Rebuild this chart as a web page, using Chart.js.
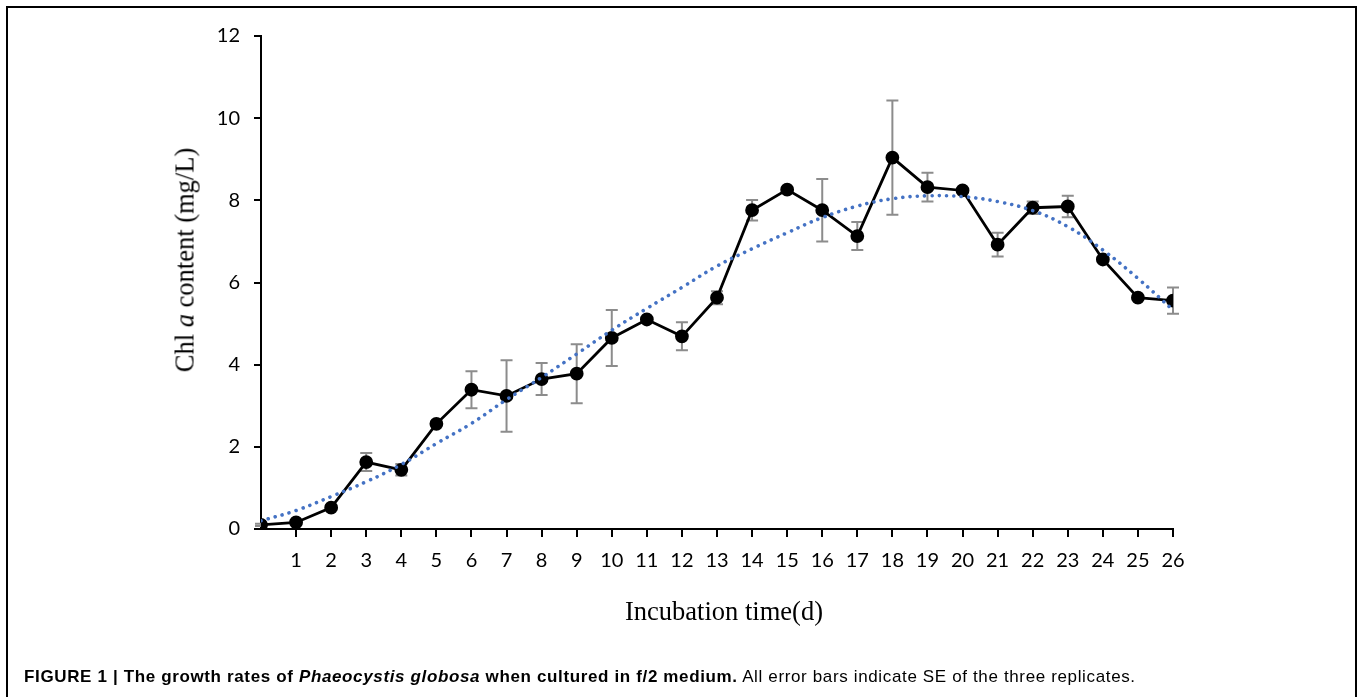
<!DOCTYPE html>
<html>
<head>
<meta charset="utf-8">
<script src="https://cdn.jsdelivr.net/npm/chart.js@4/dist/chart.umd.min.js"></script>
<style>
  html, body { margin: 0; padding: 0; background: #fff; width: 1357px; height: 697px; overflow: hidden; }
  #wrap { position: absolute; left: 0; top: 0; width: 1357px; height: 697px; }
  #frame { position: absolute; left: 6px; top: 6px; width: 1351px; height: 760px; border: 2.5px solid #000; box-sizing: border-box; }
  #ytitle { position: absolute; left: 185px; top: 260px; transform: translate(-50%, -50%) rotate(-90deg);
            font-family: "Liberation Serif", "Times New Roman", serif; font-size: 26.5px; color: #000; white-space: nowrap; }
  #xtitle { position: absolute; left: 724px; top: 611px; transform: translate(-50%, -50%);
            font-family: "Liberation Serif", "Times New Roman", serif; font-size: 26.5px; color: #000; white-space: nowrap; }
  #caption { position: absolute; left: 24px; top: 667px; font-family: "Liberation Sans", Arial, Helvetica, sans-serif;
             font-size: 17px; letter-spacing: 0.64px; color: #000; white-space: nowrap; }
  canvas { position: absolute; left: 0; top: 0; }
</style>
</head>
<body>
<div id="wrap">
  <div id="frame"></div>
  <canvas id="c" width="1357" height="697"></canvas>
  <div id="ytitle">Chl <i>a</i> content (mg/L)</div>
  <div id="xtitle"></div>
  <div id="caption"><b>FIGURE 1 | The growth rates of <i>Phaeocystis globosa</i> when cultured in f/2 medium.</b> All error bars indicate SE of the three replicates.</div>
</div>
<script>
// ---- data ----
const days = [0,1,2,3,4,5,6,7,8,9,10,11,12,13,14,15,16,17,18,19,20,21,22,23,24,25,26];
const chlA = [0.10,0.16,0.52,1.63,1.44,2.56,3.39,3.24,3.65,3.78,4.65,5.10,4.69,5.63,7.76,8.26,7.76,7.13,9.04,8.32,8.24,6.92,7.82,7.85,6.56,5.63,5.56];
const chlSE = [0.03,0.03,0.06,0.22,0.14,0.06,0.45,0.87,0.39,0.72,0.68,0.05,0.34,0.16,0.25,0.05,0.76,0.34,1.39,0.35,0.05,0.29,0.15,0.26,0.05,0.05,0.32];
const trend = [0.20,0.45,0.79,1.15,1.57,2.08,2.57,3.15,3.69,4.26,4.84,5.37,5.88,6.40,6.82,7.21,7.58,7.86,8.04,8.11,8.09,7.97,7.75,7.36,6.79,6.10,5.33];
const yTicks = [0,2,4,6,8,10,12];
const xTitle = 'Incubation time(d)';

document.getElementById('xtitle').textContent = xTitle;

const pts = days.map((d, i) => ({x: d, y: chlA[i]}));
const trendPts = days.map((d, i) => ({x: d, y: trend[i]}));

const errorBars = {
  id: 'errorBars',
  beforeDatasetsDraw(chart) {
    const {ctx, scales: {x, y}} = chart;
    ctx.save();
    ctx.strokeStyle = '#8c8c8c';
    ctx.lineWidth = 2;
    days.forEach((d, i) => {
      const px = x.getPixelForValue(d);
      const top = y.getPixelForValue(chlA[i] + chlSE[i]);
      const bot = y.getPixelForValue(chlA[i] - chlSE[i]);
      ctx.beginPath();
      ctx.moveTo(px, top); ctx.lineTo(px, bot);
      ctx.moveTo(px - 6, top); ctx.lineTo(px + 6, top);
      ctx.moveTo(px - 6, bot); ctx.lineTo(px + 6, bot);
      ctx.stroke();
    });
    ctx.restore();
  }
};

const tickFont = {family: 'Lato, "Open Sans", sans-serif', size: 20};

new Chart(document.getElementById('c'), {
  type: 'line',
  data: {
    datasets: [
      {
        label: 'trend',
        data: trendPts,
        borderColor: '#4472C4',
        borderWidth: 3.6,
        borderDash: [0.01, 7.3],
        borderCapStyle: 'round',
        pointRadius: 0,
        tension: 0.4,
        fill: false,
        order: 0
      },
      {
        label: 'Chl a',
        data: pts,
        borderColor: '#000',
        backgroundColor: '#000',
        borderWidth: 2.8,
        pointRadius: 5.5,
        pointBackgroundColor: '#000',
        pointBorderColor: '#000',
        tension: 0,
        fill: false,
        order: 1
      }
    ]
  },
  options: {
    responsive: false,
    animation: false,
    devicePixelRatio: 1,
    layout: {padding: {left: 0, top: 36, right: 184, bottom: 0}},
    plugins: {legend: {display: false}, tooltip: {enabled: false}},
    scales: {
      x: {
        type: 'linear',
        min: 0, max: 26,
        afterFit(scale) { scale.height = 168; },
        border: {color: '#000', width: 2},
        grid: {
          drawOnChartArea: false, drawTicks: true, tickLength: 8, lineWidth: 2,
          color: (ctx) => (ctx.tick && ctx.tick.value === 0) ? 'rgba(0,0,0,0)' : '#000'
        },
        ticks: {
          stepSize: 1, padding: 12, color: '#000', font: tickFont, maxRotation: 0, autoSkip: false,
          callback: (v) => v === 0 ? '' : String(v)
        },
        title: {display: false}
      },
      y: {
        min: 0, max: 12,
        afterFit(scale) { scale.width = 261; },
        afterBuildTicks(scale) { scale.ticks = yTicks.map(v => ({value: v})); },
        border: {color: '#000', width: 2},
        grid: {drawOnChartArea: false, drawTicks: true, tickLength: 7, lineWidth: 2, color: '#000'},
        ticks: {padding: 14, color: '#000', font: tickFont}
      }
    }
  },
  plugins: [errorBars]
});
</script>
</body>
</html>
